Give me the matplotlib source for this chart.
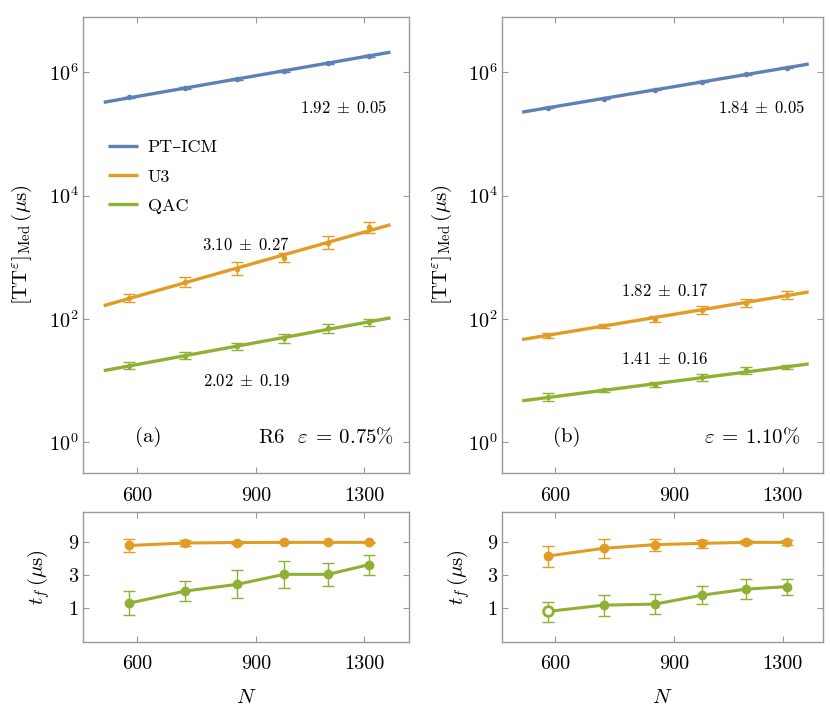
import numpy as np
import matplotlib
matplotlib.use("Agg")
import matplotlib.pyplot as plt
from matplotlib.ticker import FixedLocator, NullLocator, FixedFormatter, LogFormatterMathtext

plt.rcParams['mathtext.fontset'] = 'cm'
plt.rcParams['font.family'] = ['cmr10', 'DejaVu Serif']
plt.rcParams['axes.formatter.use_mathtext'] = True

# problem sizes
N = [585, 707, 843, 990, 1150, 1320]

# median time-to-epsilon (us), error bars given in decades
tt_pt_a = [3.93e5, 5.55e5, 7.76e5, 1.05e6, 1.40e6, 1.83e6]
tt_pt_a_dex = [0.01, 0.01, 0.01, 0.01, 0.01, 0.01]
tt_u3_a = [219, 398, 655, 977, 1740, 3055]
tt_u3_a_dex = [0.06, 0.087, 0.11, 0.073, 0.10, 0.092]
tt_qac_a = [17.5, 25.4, 36.0, 49.2, 71.4, 88.1]
tt_qac_a_dex = [0.054, 0.06, 0.06, 0.073, 0.073, 0.06]

tt_pt_b = [2.68e5, 3.75e5, 5.19e5, 6.98e5, 9.2e5, 1.19e6]
tt_pt_b_dex = [0.01, 0.01, 0.01, 0.01, 0.01, 0.01]
tt_u3_b = [53.6, 77.8, 102, 141, 182, 248]
tt_u3_b_dex = [0.043, 0.035, 0.049, 0.06, 0.06, 0.068]
tt_qac_b = [5.43, 6.97, 8.61, 11.3, 14.7, 16.8]
tt_qac_b_dex = [0.062, 0.03, 0.038, 0.06, 0.054, 0.035]

# power-law fits: value at N=1000 and exponent
fit_a = {'PT-ICM': (1.078e6, 1.92), 'U3': (1138, 3.10), 'QAC': (51.4, 2.02)}
fit_b = {'PT-ICM': (7.11e5, 1.84), 'U3': (144.9, 1.82), 'QAC': (11.4, 1.41)}
fit_err_a = {'PT-ICM': 0.05, 'U3': 0.27, 'QAC': 0.19}
fit_err_b = {'PT-ICM': 0.05, 'U3': 0.17, 'QAC': 0.16}
fit_N = [536, 1421]

# optimal anneal time t_f (us)
tf_u3_a = [8.1, 8.8, 8.95, 9.0, 9.0, 9.0]
tf_u3_a_lo = [6.6, 8.05, 8.4, 8.9, 8.9, 8.9]
tf_u3_a_hi = [10.2, 9.7, 9.4, 9.1, 9.1, 9.1]
tf_qac_a = [1.17, 1.75, 2.19, 3.07, 3.07, 4.25]
tf_qac_a_lo = [0.78, 1.24, 1.41, 1.96, 2.07, 3.03]
tf_qac_a_hi = [1.73, 2.48, 3.51, 4.8, 4.44, 5.82]

tf_u3_b = [5.69, 7.36, 8.33, 8.7, 9.0, 9.0]
tf_u3_b_lo = [3.88, 5.38, 6.8, 7.56, 8.4, 8.2]
tf_u3_b_hi = [8.04, 10.1, 10.2, 9.8, 9.6, 9.7]
tf_qac_b = [0.884, 1.09, 1.13, 1.53, 1.87, 2.03]
tf_qac_b_lo = [0.62, 0.77, 0.80, 1.12, 1.35, 1.55]
tf_qac_b_hi = [1.22, 1.53, 1.58, 2.09, 2.59, 2.65]
qac_b_open = [True, False, False, False, False, False]

colors = {'PT-ICM': '#5E81B5', 'U3': '#E19C24', 'QAC': '#8FB032'}
labels = {'PT-ICM': 'PT–ICM', 'U3': 'U3', 'QAC': 'QAC'}
frame = '#999999'

fig = plt.figure(figsize=(8.3, 7.21), dpi=100)
W, H = 830, 721


def px_axes(x0, x1, y0, y1):
    return fig.add_axes([x0 / W, 1 - y1 / H, (x1 - x0) / W, (y1 - y0) / H])


def style(ax, xlim, pad):
    ax.set_xscale('log')
    ax.set_xlim(*xlim)
    ax.xaxis.set_major_locator(FixedLocator([600, 900, 1300]))
    ax.xaxis.set_major_formatter(FixedFormatter(['600', '900', '1300']))
    ax.xaxis.set_minor_locator(NullLocator())
    ax.yaxis.set_minor_locator(NullLocator())
    ax.tick_params(direction='in', length=4.3, width=0.8, color=frame,
                   top=True, right=True, labelsize=14.5, labelcolor='black')
    ax.tick_params(axis='x', pad=pad)
    ax.tick_params(axis='y', pad=3.5)
    for s in ax.spines.values():
        s.set_color(frame)
        s.set_linewidth(1.0)


def top_panel(ax, series, fits, errs, tag, note, xlim, pos, note_x, legend=False):
    style(ax, xlim, 10)
    ax.set_yscale('log')
    ax.set_ylim(10 ** -0.49, 10 ** 6.9)
    ax.yaxis.set_major_locator(FixedLocator([1, 1e2, 1e4, 1e6]))
    ax.yaxis.set_major_formatter(LogFormatterMathtext())
    ax.yaxis.set_minor_locator(NullLocator())
    nn = np.array(N, dtype=float)
    fn = np.geomspace(fit_N[0], fit_N[1], 50)
    handles = []
    for name, (vals, dex) in series.items():
        v = np.array(vals)
        d = np.array(dex)
        lo = v - v / 10 ** d
        hi = v * 10 ** d - v
        ax.errorbar(nn, v, yerr=[lo, hi], fmt='o', ms=3, color=colors[name],
                    ecolor=colors[name], elinewidth=1.0, capsize=4.5, capthick=1.0, zorder=2)
        a, b = fits[name]
        h, = ax.plot(fn, a * (fn / 1000) ** b, color=colors[name], lw=2.4,
                     solid_capstyle='butt', label=labels[name], zorder=3)
        handles.append(h)
    for name, (x, y) in pos.items():
        ax.text(x, y, r'$%.2f\;\pm\;%.2f$' % (fits[name][1], errs[name]),
                transform=ax.transAxes, ha='center', va='center', fontsize=12)
    ax.text(0.20, 0.078, tag, transform=ax.transAxes, ha='center', va='center', fontsize=15)
    ax.text(note_x, 0.078, note, transform=ax.transAxes,
            ha='right', va='center', fontsize=15)
    ax.set_ylabel(r'$[\mathrm{TT}^{\varepsilon}]_{\mathrm{Med}}\,(\mu\mathrm{s})$', fontsize=15)
    ax.yaxis.set_label_coords(-0.15, 0.5)
    if legend:
        ax.legend(handles=handles, loc='center left', bbox_to_anchor=(0.076, 0.649),
                  frameon=False, fontsize=13, handlelength=1.65, handletextpad=0.55,
                  labelspacing=0.75, borderpad=0, borderaxespad=0)


def bottom_panel(ax, series, xlim, open_pts=None):
    style(ax, xlim, 9)
    ax.set_yscale('log')
    ax.set_ylim(0.313, 24.7)
    ax.yaxis.set_major_locator(FixedLocator([1, 3, 9]))
    ax.yaxis.set_major_formatter(FixedFormatter(['1', '3', '9']))
    ax.yaxis.set_minor_locator(NullLocator())
    nn = np.array(N, dtype=float)
    for name, (vals, lo, hi) in series.items():
        v = np.array(vals)
        ax.errorbar(nn, v, yerr=[v - np.array(lo), np.array(hi) - v], fmt='none',
                    ecolor=colors[name], elinewidth=1.0, capsize=4.5, capthick=1.0, zorder=2)
        ax.plot(nn, v, color=colors[name], lw=2.2, zorder=3)
        filled = np.ones(len(v), dtype=bool)
        if name == 'QAC' and open_pts is not None:
            filled = ~np.array(open_pts)
        ax.plot(nn[filled], v[filled], 'o', ms=6, color=colors[name], zorder=4)
        if (~filled).any():
            ax.plot(nn[~filled], v[~filled], 'o', ms=7, mfc='white', mec=colors[name],
                    mew=2, zorder=4)
    ax.set_ylabel(r'$t_f\,(\mu\mathrm{s})$', fontsize=15)
    ax.yaxis.set_label_coords(-0.095, 0.5)
    ax.set_xlabel(r'$N$', fontsize=15)
    ax.xaxis.set_label_coords(0.5, -0.36)


ax_a = px_axes(83.3, 409.3, 16.7, 472.7)
ax_b = px_axes(502.3, 823, 16.7, 472.7)
ax_c = px_axes(83.3, 409.3, 512.3, 642.3)
ax_d = px_axes(502.3, 823, 512.3, 642.3)

xlim_l = (500, 1515)
xlim_r = (501, 1492)

top_panel(ax_a, {'PT-ICM': (tt_pt_a, tt_pt_a_dex), 'U3': (tt_u3_a, tt_u3_a_dex),
                 'QAC': (tt_qac_a, tt_qac_a_dex)},
          fit_a, fit_err_a, '(a)', r'R6  $\varepsilon\:=\:0.75\%$', xlim_l,
          {'PT-ICM': (0.80, 0.80), 'U3': (0.50, 0.50), 'QAC': (0.50, 0.20)}, 0.954,
          legend=True)
top_panel(ax_b, {'PT-ICM': (tt_pt_b, tt_pt_b_dex), 'U3': (tt_u3_b, tt_u3_b_dex),
                 'QAC': (tt_qac_b, tt_qac_b_dex)},
          fit_b, fit_err_b, '(b)', r'$\varepsilon\:=\:1.10\%$', xlim_r,
          {'PT-ICM': (0.81, 0.80), 'U3': (0.507, 0.40), 'QAC': (0.507, 0.25)}, 0.93)

bottom_panel(ax_c, {'U3': (tf_u3_a, tf_u3_a_lo, tf_u3_a_hi),
                    'QAC': (tf_qac_a, tf_qac_a_lo, tf_qac_a_hi)}, xlim_l)
bottom_panel(ax_d, {'U3': (tf_u3_b, tf_u3_b_lo, tf_u3_b_hi),
                    'QAC': (tf_qac_b, tf_qac_b_lo, tf_qac_b_hi)}, xlim_r, qac_b_open)

fig.savefig('out.png', dpi=100)
